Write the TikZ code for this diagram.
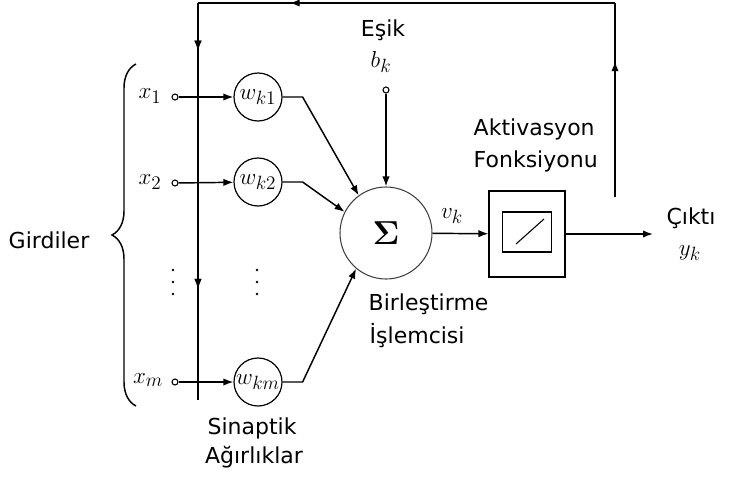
\documentclass[tikz,border=0pt]{standalone}
\usepackage[no-math]{fontspec}
\usepackage{amsmath,amssymb}
\newfontfamily\lbl{DejaVu Sans}
\usetikzlibrary{arrows.meta,calc,positioning}
\usetikzlibrary{decorations.pathreplacing,decorations.markings}

\begin{document}
\begin{tikzpicture}[x=0.75pt,y=-0.75pt,line width=1.1pt,
every node/.style={inner sep=0pt},
tip/.style={-{Latex[length=7.5pt,width=5.5pt]}},
fb/.style={postaction={decorate},decoration={markings,
mark=at position #1 with {\arrow{Latex[length=7.5pt,width=5.5pt]}}}},
txt/.style={font=\lbl\fontsize{16.5}{20}\selectfont},
mth/.style={font=\fontsize{19}{22}\selectfont},
wgt/.style={circle,draw,line width=0.9pt,minimum size=36pt,mth},
term/.style={circle,draw,line width=0.8pt,fill=white,minimum size=4.5pt}]
\useasboundingbox (0,0) rectangle (731,482);
% girdiler
\node[mth] (X1) at (150,96) {$x_1$};
\node[mth] (X2) at (150,182) {$x_2$};
\node[mth] (Xm) at (148,380) {$x_m$};
\foreach \y in {270,282,294} {
\fill (173,\y) circle (1.1pt);
\fill (257,\y) circle (1.1pt);
}
\node[term] (T1) at (175,97) {};
\node[term] (T2) at (175,183) {};
\node[term] (Tm) at (175,382) {};
\node[wgt] (W1) at (258,97) {$w_{k1}$};
\node[wgt] (W2) at (258,182) {$w_{k2}$};
\node[wgt] (Wm) at (258,382) {$w_{km}$};
\draw[decorate,decoration={brace,amplitude=18pt},line width=1.1pt]
(136,406) -- (136,64);
\node[txt] (G) at (49,240) {Girdiler};
% toplama
\node[circle,draw=black!75,line width=0.8pt,minimum size=69pt,
font=\fontsize{24}{28}\selectfont] (S) at (386,233) {$\boldsymbol{\Sigma}$};
\node[txt,anchor=base west] (B1) at (368,310) {Birleştirme};
\node[txt,anchor=base west] (B2) at (369,343) {İşlemcisi};
\node[txt] (E) at (383,30) {Eşik};
\node[mth] (Bk) at (381,62) {$b_k$};
\node[term] (TB) at (386,90) {};
% aktivasyon
\node[draw,line width=0.8pt,minimum width=57pt,minimum height=64.5pt] (F) at (527,234) {};
\node[draw,line width=0.8pt,minimum width=37pt,minimum height=30pt] (FI) at (527,232) {};
\draw[line width=0.8pt] (516,244) -- (544,219);
\node[txt,anchor=base west] (A1) at (473,135) {Aktivasyon};
\node[txt,anchor=base west] (A2) at (473,167) {Fonksiyonu};
\node[mth] (Vk) at (452,216) {$v_k$};
\node[txt] (C) at (691,218) {Çıktı};
\node[mth] (Yk) at (690,253) {$y_k$};
\node[txt] (S1) at (252,428) {Sinaptik};
\node[txt] (S2) at (254,457) {Ağırlıklar};
\coordinate (Out) at (653,234);
\coordinate (FB) at (615,197);
\coordinate (C1) at (615,3);
\coordinate (C2) at (198,3);
\coordinate (C3) at (198,400);
% baglantilar
\draw[tip] (T1)--(W1);
\draw[tip] (T2)--(W2);
\draw[tip] (Tm)--(Wm);
\draw[tip] (W1.east)--++(20,0)--(S.126);
\draw[tip] (W2.east)--++(20,0)--(S.153);
\draw[tip] (Wm.east)--++(20,0)--(S.230);
\draw[tip] (TB)--(S);
\draw[tip] (S)--(F);
\draw[tip] (F)--(Out);
\draw[fb=0.7] (FB)--(C1);
\draw[fb=0.78] (C1)--(C2);
\draw[fb=0.12,fb=0.72] (C2)--(C3);
\end{tikzpicture}
\end{document}
